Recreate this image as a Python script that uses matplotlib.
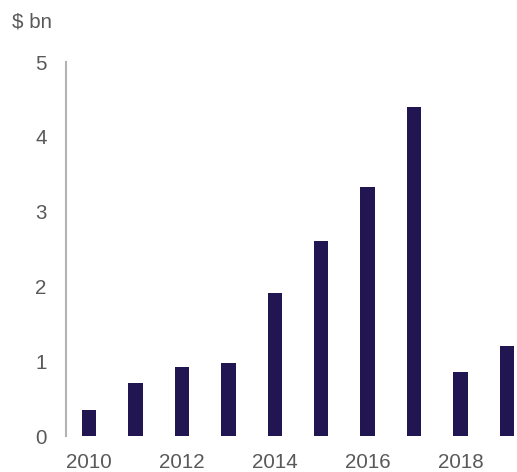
import matplotlib
matplotlib.use("Agg")
import matplotlib.pyplot as plt

years = [2010, 2011, 2012, 2013, 2014, 2015, 2016, 2017, 2018, 2019]
values = [0.35, 0.71, 0.92, 0.98, 1.91, 2.61, 3.33, 4.40, 0.86, 1.20]
year_ticks = [2010, 2012, 2014, 2016, 2018]
y_ticks = [0, 1, 2, 3, 4, 5]

plt.rcParams['font.family'] = ['Liberation Sans', 'DejaVu Sans']
grey = '#595959'
fs = 14.8

fig = plt.figure(figsize=(5.17, 4.72), dpi=100)
ax = fig.add_axes([66 / 517, 1 - 436 / 472, 1 - 66 / 517, (436 - 62) / 472])

ax.bar(years, values, width=0.31, color='#211652')

ax.set_xlim(2009.5, 2019.22)
ax.set_ylim(0, 5)
ax.set_xticks(year_ticks)
ax.set_yticks(y_ticks)
ax.tick_params(axis='both', length=0, labelsize=fs, labelcolor=grey)
ax.tick_params(axis='x', pad=12.5)
ax.tick_params(axis='y', pad=14)

for s in ['top', 'right', 'bottom']:
    ax.spines[s].set_visible(False)
ax.spines['left'].set_color('#b3b3b3')
ax.spines['left'].set_linewidth(1.5)

fig.text(12 / 517, 1 - 22 / 472, '$ bn', fontsize=fs, color=grey, va='center', ha='left')

fig.savefig('out.png', dpi=100)
